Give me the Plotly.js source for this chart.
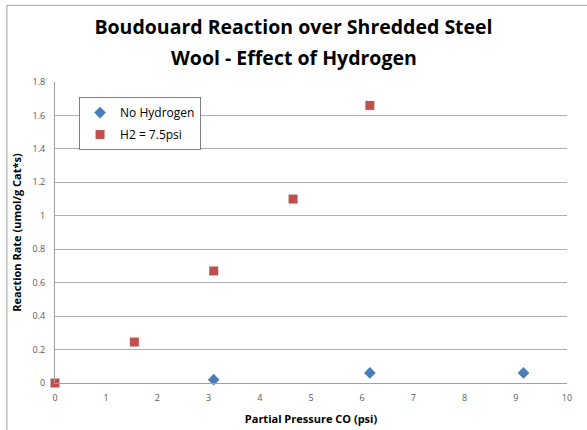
<!DOCTYPE html>
<html>
<head>
<meta charset="utf-8">
<script src="https://cdn.plot.ly/plotly-3.0.1.min.js"></script>
<style>html,body{margin:0;padding:0;background:#fff;}#chart{width:587px;height:430px;}</style>
</head>
<body>
<div id="chart"></div>
<script>
const noH2X = [3.1, 6.15, 9.15];
const noH2Y = [0.02, 0.06, 0.06];
const h2X = [0, 1.55, 3.1, 4.65, 6.15];
const h2Y = [0, 0.245, 0.67, 1.1, 1.66];
const seriesNames = ["No Hydrogen", "H2 = 7.5psi"];
const titleLines = ["Boudouard Reaction over Shredded Steel", "Wool - Effect of Hydrogen"];
const xTicks = [0,1,2,3,4,5,6,7,8,9,10];
const yTicks = [0,0.2,0.4,0.6,0.8,1,1.2,1.4,1.6,1.8];
const yTickText = ["0","0.2","0.4","0.6","0.8","1","1.2","1.4","1.6","1.8"];

const font = "Open Sans, sans-serif";
const traces = [
  {x: noH2X, y: noH2Y, name: seriesNames[0], mode: "markers", type: "scatter", legendgroup: "a",
   marker: {symbol: "diamond", size: 9, color: "#4a7ebb"}, cliponaxis: false},
  {x: h2X, y: h2Y, name: seriesNames[1], mode: "markers", type: "scatter", legendgroup: "b",
   marker: {symbol: "square", size: 9, color: "#c0504d"}, cliponaxis: false}
];
const layout = {
  width: 587, height: 430,
  margin: {l: 55, r: 20, t: 82, b: 47},
  paper_bgcolor: "#fff", plot_bgcolor: "#fff",
  font: {family: font, color: "#595959"},
  title: {text: titleLines[0],
          x: 0.5, xanchor: "center", y: 1 - 27/430, yanchor: "middle",
          font: {family: font, size: 19.5, color: "#000", weight: "bold"}},
  annotations: [
    {text: titleLines[1], xref: "paper", yref: "paper", x: 0.4, xanchor: "center",
     y: 1 + (383 - 82 - 57 + 82 - 82) / 301 - 0 , yanchor: "middle", showarrow: false,
     font: {family: font, size: 19.5, color: "#000", weight: "bold"}}
  ],
  xaxis: {range: [0, 10], tickvals: xTicks, ticktext: xTicks.map(String),
          showgrid: false, zeroline: false, showline: true, linecolor: "#a0a0a0", linewidth: 1,
          ticks: "", tickfont: {size: 9, color: "#595959"}, ticklabelstandoff: 6,
          title: {text: "Partial Pressure CO (psi)", standoff: 12,
                  font: {family: font, size: 11, color: "#000", weight: "bold"}}},
  yaxis: {range: [0, 1.8], tickvals: yTicks, ticktext: yTickText,
          showgrid: true, gridcolor: "#b0b0b0", gridwidth: 1, zeroline: false,
          showline: true, linecolor: "#a0a0a0", linewidth: 1,
          ticks: "", tickfont: {size: 9, color: "#595959"}, ticklabelstandoff: 7,
          title: {text: "Reaction Rate (umol/g Cat*s)", standoff: 8,
                  font: {family: font, size: 11, color: "#000", weight: "bold"}}},
  showlegend: true,
  legend: {x: 0.047, y: 0.95, xanchor: "left", yanchor: "top", traceorder: "grouped", tracegroupgap: 3,
           bgcolor: "#fff", bordercolor: "#7f7f7f", borderwidth: 1,
           font: {family: font, size: 12, color: "#000"}, itemwidth: 30, entrywidth: 100},
  shapes: [
    {type: "line", xref: "paper", yref: "paper", x0: -0.094, x1: 1.2, y0: 1.255, y1: 1.255,
     line: {color: "#a0a0a0", width: 1}},
    {type: "line", xref: "paper", yref: "paper", x0: -0.094, x1: -0.094, y0: -0.2, y1: 1.255,
     line: {color: "#a0a0a0", width: 1}}
  ]
};
// second title line centred on the full figure width at y = 57 px
layout.annotations[0].x = (293.5 - 55) / 512;
layout.annotations[0].y = (383 - 57) / 301;
Plotly.newPlot("chart", traces, layout, {displayModeBar: false, staticPlot: true});
</script>
</body>
</html>
